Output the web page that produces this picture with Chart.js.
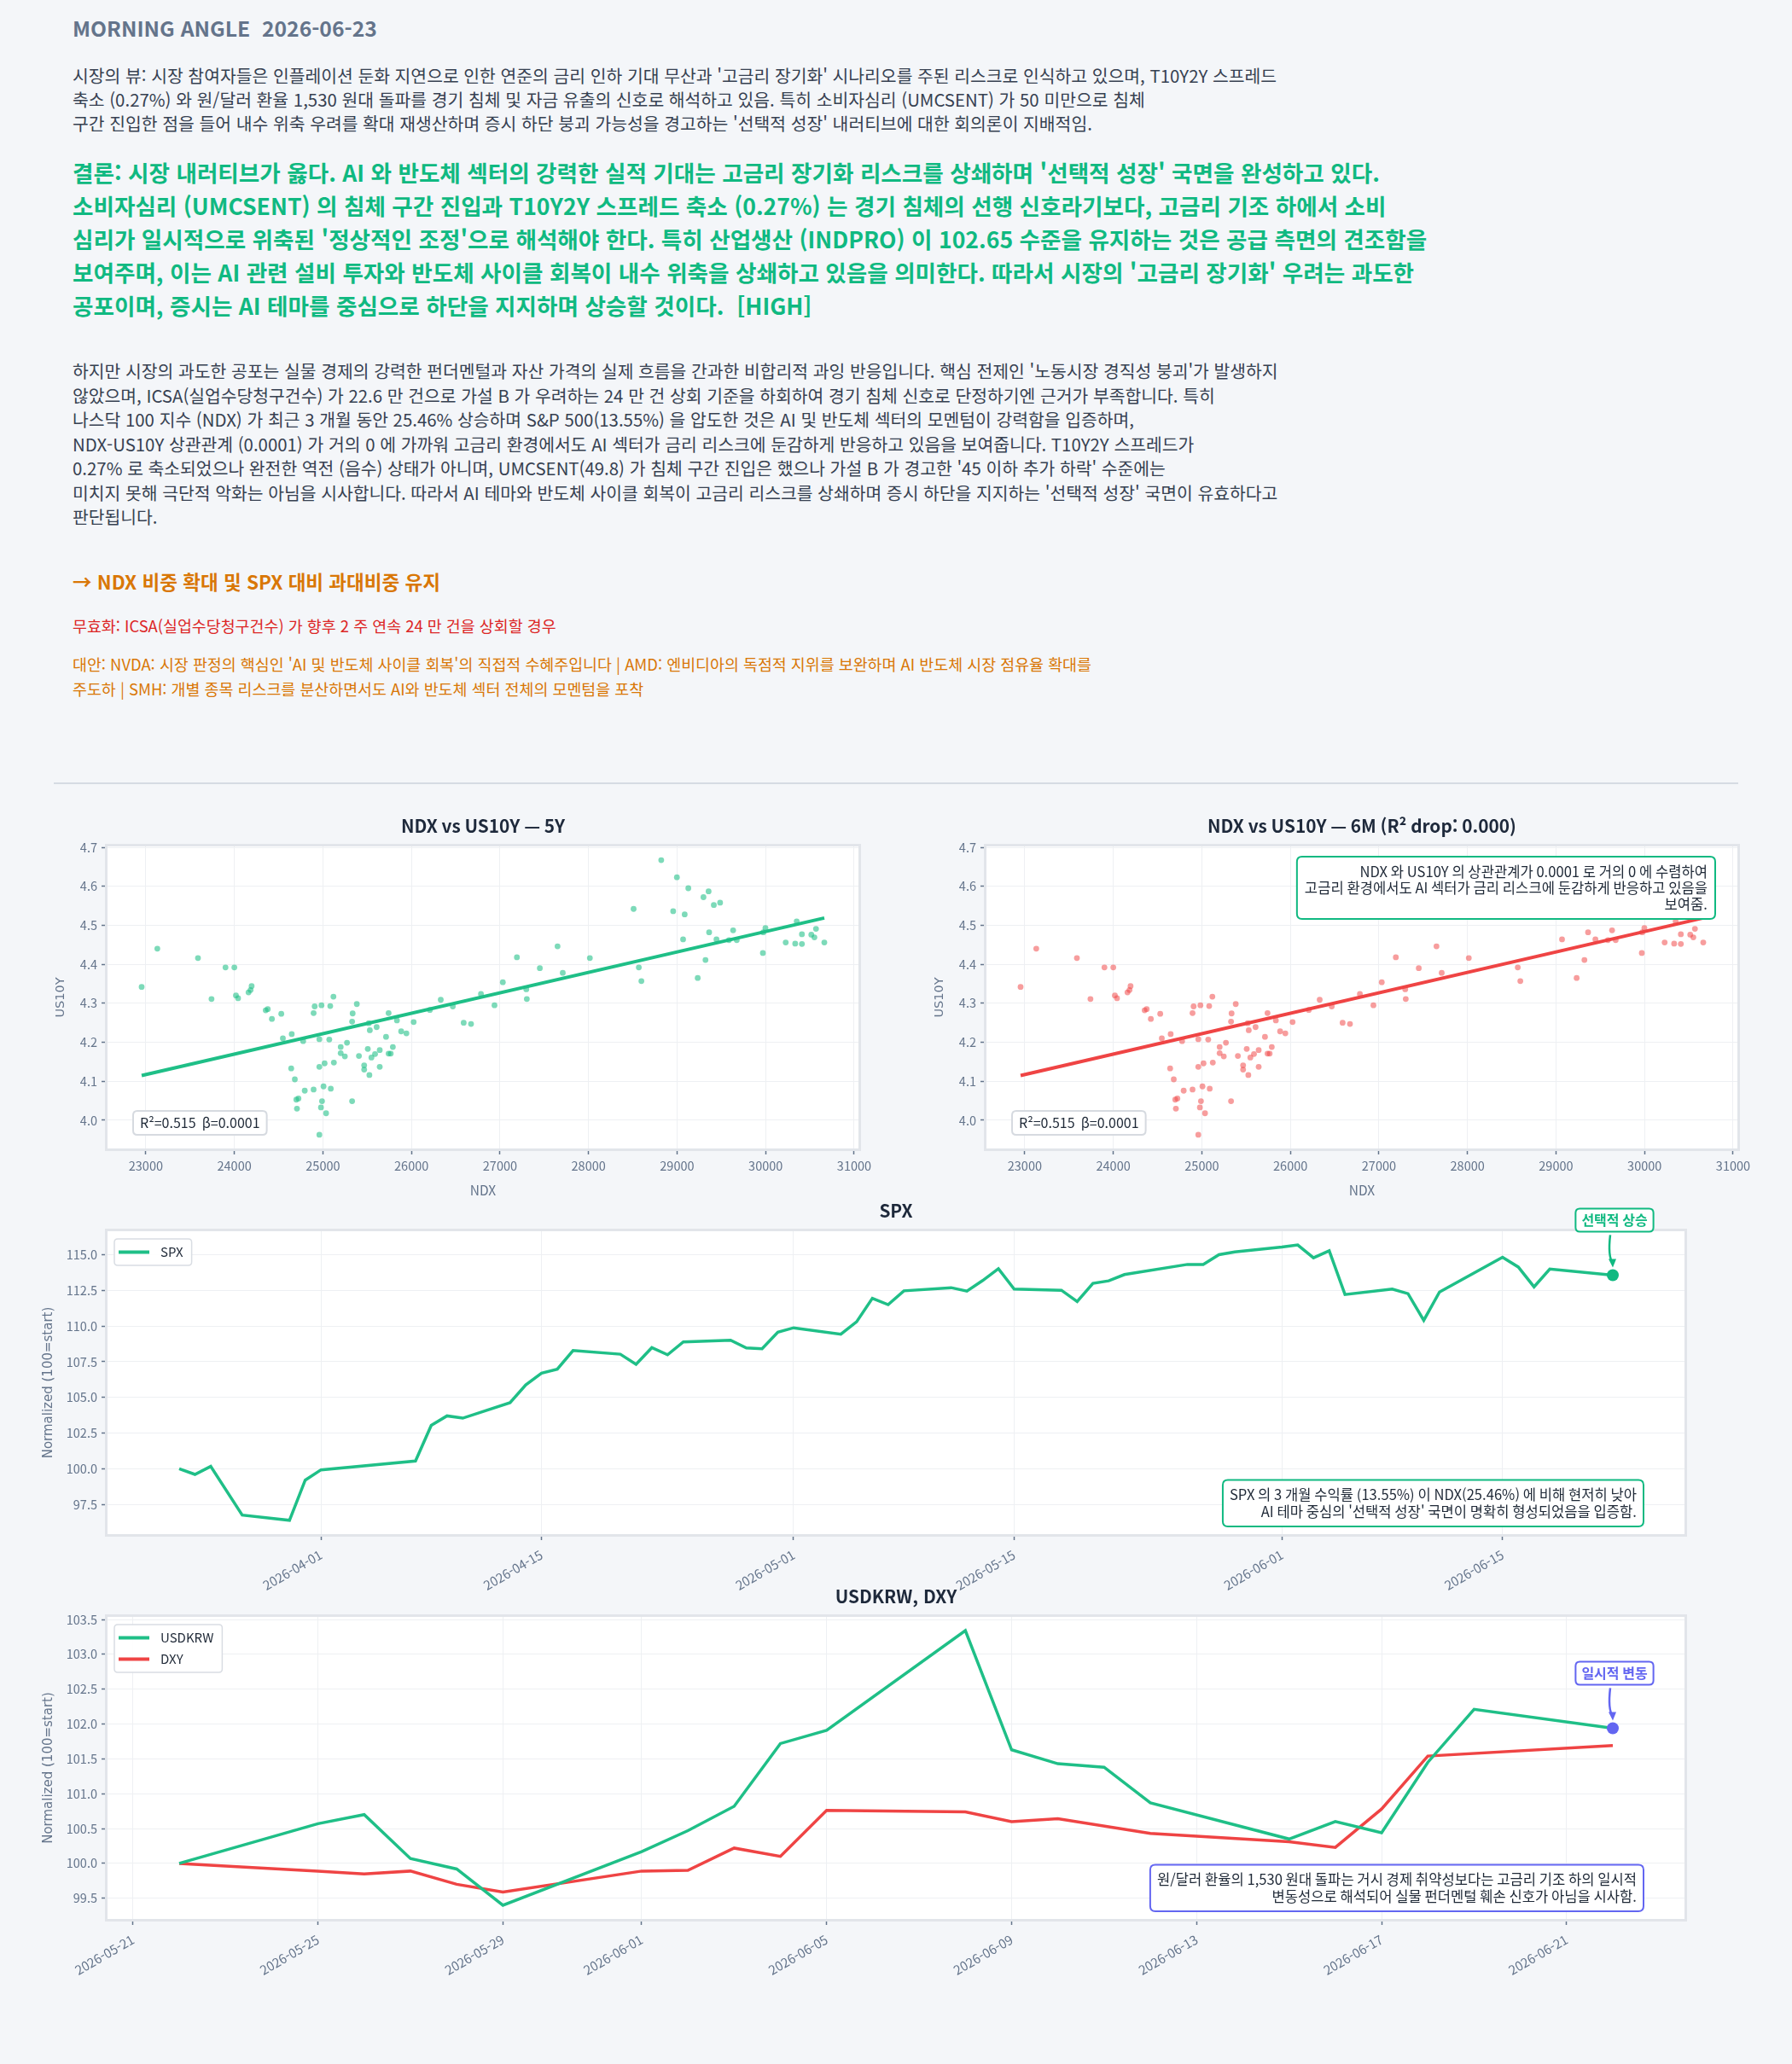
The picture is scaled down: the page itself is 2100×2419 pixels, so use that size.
<!DOCTYPE html>
<html lang="ko">
<head>
<meta charset="utf-8">
<title>Morning Angle 2026-06-23</title>
<script src="https://cdn.jsdelivr.net/npm/chart.js@4.4.1/dist/chart.umd.min.js"></script>
<style>
  html, body { margin: 0; padding: 0; }
  body {
    width: 2100px; height: 2419px; position: relative; overflow: hidden;
    background: #f4f6f9;
    font-family: 'Noto Sans CJK KR', 'Noto Sans', sans-serif;
  }
  .txt { position: absolute; left: 85px; margin: 0; white-space: nowrap; }
  .head { top: 17px; font-size: 24.7px; line-height: 30px; font-weight: 700; color: #64748b; }
  .view { top: 74px; font-size: 20.4px; line-height: 28px; color: #374151; }
  .verdict { top: 182px; font-size: 26.6px; line-height: 39px; font-weight: 700; color: #10b981; }
  .body2 { top: 420px; font-size: 20.4px; line-height: 28.5px; color: #374151; }
  .action { top: 666px; font-size: 22.5px; line-height: 30px; font-weight: 700; color: #d97706; }
  .invalid { top: 719px; font-size: 18.4px; line-height: 28px; color: #dc2626; }
  .alt { top: 764px; font-size: 18.4px; line-height: 29px; color: #d97706; }
  .rule { position: absolute; left: 63px; top: 917px; width: 1974px; height: 2px; background: #d5dbe3; }
  .box { position: absolute; }
  #c1 { left: 60px; top: 950px; width: 980px; height: 460px; }
  #c2 { left: 1090px; top: 950px; width: 980px; height: 460px; }
  #c3 { left: 45px; top: 1400px; width: 1985px; height: 472px; }
  #c4 { left: 45px; top: 1850px; width: 1985px; height: 472px; }
</style>
</head>
<body>

<div class="txt head">MORNING ANGLE&nbsp; 2026-06-23</div>

<div class="txt view">
시장의 뷰: 시장 참여자들은 인플레이션 둔화 지연으로 인한 연준의 금리 인하 기대 무산과 '고금리 장기화' 시나리오를 주된 리스크로 인식하고 있으며, T10Y2Y 스프레드<br>
축소 (0.27%) 와 원/달러 환율 1,530 원대 돌파를 경기 침체 및 자금 유출의 신호로 해석하고 있음. 특히 소비자심리 (UMCSENT) 가 50 미만으로 침체<br>
구간 진입한 점을 들어 내수 위축 우려를 확대 재생산하며 증시 하단 붕괴 가능성을 경고하는 '선택적 성장' 내러티브에 대한 회의론이 지배적임.
</div>

<div class="txt verdict">
결론: 시장 내러티브가 옳다. AI 와 반도체 섹터의 강력한 실적 기대는 고금리 장기화 리스크를 상쇄하며 '선택적 성장' 국면을 완성하고 있다.<br>
소비자심리 (UMCSENT) 의 침체 구간 진입과 T10Y2Y 스프레드 축소 (0.27%) 는 경기 침체의 선행 신호라기보다, 고금리 기조 하에서 소비<br>
심리가 일시적으로 위축된 '정상적인 조정'으로 해석해야 한다. 특히 산업생산 (INDPRO) 이 102.65 수준을 유지하는 것은 공급 측면의 견조함을<br>
보여주며, 이는 AI 관련 설비 투자와 반도체 사이클 회복이 내수 위축을 상쇄하고 있음을 의미한다. 따라서 시장의 '고금리 장기화' 우려는 과도한<br>
공포이며, 증시는 AI 테마를 중심으로 하단을 지지하며 상승할 것이다.&nbsp; [HIGH]
</div>

<div class="txt body2">
하지만 시장의 과도한 공포는 실물 경제의 강력한 펀더멘털과 자산 가격의 실제 흐름을 간과한 비합리적 과잉 반응입니다. 핵심 전제인 '노동시장 경직성 붕괴'가 발생하지<br>
않았으며, ICSA(실업수당청구건수) 가 22.6 만 건으로 가설 B 가 우려하는 24 만 건 상회 기준을 하회하여 경기 침체 신호로 단정하기엔 근거가 부족합니다. 특히<br>
나스닥 100 지수 (NDX) 가 최근 3 개월 동안 25.46% 상승하며 S&amp;P 500(13.55%) 을 압도한 것은 AI 및 반도체 섹터의 모멘텀이 강력함을 입증하며,<br>
NDX-US10Y 상관관계 (0.0001) 가 거의 0 에 가까워 고금리 환경에서도 AI 섹터가 금리 리스크에 둔감하게 반응하고 있음을 보여줍니다. T10Y2Y 스프레드가<br>
0.27% 로 축소되었으나 완전한 역전 (음수) 상태가 아니며, UMCSENT(49.8) 가 침체 구간 진입은 했으나 가설 B 가 경고한 '45 이하 추가 하락' 수준에는<br>
미치지 못해 극단적 악화는 아님을 시사합니다. 따라서 AI 테마와 반도체 사이클 회복이 고금리 리스크를 상쇄하며 증시 하단을 지지하는 '선택적 성장' 국면이 유효하다고<br>
판단됩니다.
</div>

<div class="txt action">→ NDX 비중 확대 및 SPX 대비 과대비중 유지</div>
<div class="txt invalid">무효화: ICSA(실업수당청구건수) 가 향후 2 주 연속 24 만 건을 상회할 경우</div>
<div class="txt alt">
대안: NVDA: 시장 판정의 핵심인 'AI 및 반도체 사이클 회복'의 직접적 수혜주입니다 | AMD: 엔비디아의 독점적 지위를 보완하며 AI 반도체 시장 점유율 확대를<br>
주도하 | SMH: 개별 종목 리스크를 분산하면서도 AI와 반도체 섹터 전체의 모멘텀을 포착
</div>

<div class="rule"></div>

<div class="box" id="c1"><canvas id="scatter5y"></canvas></div>
<div class="box" id="c2"><canvas id="scatter6m"></canvas></div>
<div class="box" id="c3"><canvas id="spxChart"></canvas></div>
<div class="box" id="c4"><canvas id="fxChart"></canvas></div>

<script>
// ---- data ----
const ndxValues = [22953,23130,23589,23742,23900,24000,24018,24042,24160,24183,
  24195,24354,24377,24424,24530,24548,24648,24642,24683,24700,
  24724,24707,24777,24795,24895,24907,24895,24960,24960,24960,
  24978,24984,24990,25007,25019,25036,25072,25083,25089,25119,
  25124,25201,25201,25248,25272,25330,25330,25336,25383,25407,
  25466,25466,25507,25519,25530,25525,25548,25589,25607,25642,
  25642,25713,25742,25742,25766,25790,25836,25884,25943,26025,
  26208,26331,26467,26590,26673,26785,26938,27032,27191,27297,
  27303,27450,27650,27709,28015,28509,28568,28597,28821,28956,
  28998,29068,29086,29127,29233,29298,29321,29362,29356,29415,
  29445,29486,29586,29633,29674,29969,29998,29974,30227,30334,
  30351,30410,30410,30516,30551,30569,30663];
const us10yValues = [4.342,4.440,4.416,4.311,4.392,4.392,4.320,4.313,4.328,4.334,
  4.344,4.282,4.285,4.260,4.273,4.210,4.221,4.133,4.105,4.053,
  4.056,4.030,4.203,4.076,4.275,4.292,4.079,3.963,4.208,4.137,
  4.033,4.295,4.049,4.087,4.146,4.018,4.207,4.293,4.081,4.317,
  4.148,4.188,4.172,4.164,4.199,4.049,4.253,4.274,4.298,4.165,
  4.141,4.130,4.183,4.249,4.231,4.116,4.161,4.170,4.239,4.180,
  4.137,4.214,4.275,4.171,4.171,4.188,4.256,4.228,4.223,4.252,
  4.283,4.309,4.292,4.250,4.247,4.324,4.295,4.354,4.418,4.336,
  4.311,4.390,4.446,4.378,4.416,4.542,4.392,4.357,4.667,4.536,
  4.623,4.464,4.528,4.595,4.365,4.572,4.411,4.482,4.587,4.552,
  4.464,4.558,4.462,4.487,4.462,4.429,4.493,4.482,4.456,4.453,
  4.510,4.477,4.452,4.476,4.469,4.491,4.456];
const ndxTicks = [23000,24000,25000,26000,27000,28000,29000,30000,31000];
const us10yTicks = [4.0,4.1,4.2,4.3,4.4,4.5,4.6,4.7];

const spxDates = ['2026-03-23','2026-03-24','2026-03-25','2026-03-27','2026-03-30','2026-03-31',
  '2026-04-01','2026-04-07','2026-04-08','2026-04-09','2026-04-10','2026-04-13','2026-04-14',
  '2026-04-15','2026-04-16','2026-04-17','2026-04-20','2026-04-21','2026-04-22','2026-04-23',
  '2026-04-24','2026-04-27','2026-04-28','2026-04-29','2026-04-30','2026-05-01','2026-05-04',
  '2026-05-05','2026-05-06','2026-05-07','2026-05-08','2026-05-11','2026-05-12','2026-05-13',
  '2026-05-14','2026-05-15','2026-05-18','2026-05-19','2026-05-20','2026-05-21','2026-05-22',
  '2026-05-26','2026-05-27','2026-05-28','2026-05-29','2026-06-01','2026-06-02','2026-06-03',
  '2026-06-04','2026-06-05','2026-06-08','2026-06-09','2026-06-10','2026-06-11','2026-06-15',
  '2026-06-16','2026-06-17','2026-06-18','2026-06-22'];
const spxValues = [100.0,99.61,100.17,96.76,96.39,99.21,
  99.93,100.55,103.05,103.71,103.55,104.63,105.88,
  106.70,106.98,108.29,108.03,107.32,108.49,107.99,
  108.89,109.01,108.47,108.41,109.57,109.88,109.43,
  110.30,111.95,111.50,112.47,112.69,112.45,113.19,
  114.02,112.59,112.51,111.72,112.99,113.17,113.61,
  114.32,114.32,115.00,115.20,115.54,115.68,114.78,
  115.28,112.21,112.59,112.27,110.40,112.39,114.82,
  114.14,112.75,114.00,113.57];
const spxTicks = [97.5,100.0,102.5,105.0,107.5,110.0,112.5,115.0];
const spxDateTicks = ['2026-04-01','2026-04-15','2026-05-01','2026-05-15','2026-06-01','2026-06-15'];

const krwDates = ['2026-05-22','2026-05-25','2026-05-26','2026-05-27','2026-05-28','2026-05-29',
  '2026-06-01','2026-06-02','2026-06-03','2026-06-04','2026-06-05','2026-06-08','2026-06-09',
  '2026-06-10','2026-06-11','2026-06-12','2026-06-15','2026-06-16','2026-06-17','2026-06-18',
  '2026-06-19','2026-06-22'];
const krwValues = [100.0,100.57,100.70,100.07,99.92,99.40,
  100.17,100.47,100.82,101.72,101.91,103.34,101.63,
  101.43,101.38,100.87,100.35,100.60,100.44,101.45,
  102.21,101.94];
const dxyDates = ['2026-05-22','2026-05-25','2026-05-26','2026-05-27','2026-05-28','2026-05-29',
  '2026-06-01','2026-06-02','2026-06-03','2026-06-04','2026-06-05','2026-06-08','2026-06-09',
  '2026-06-10','2026-06-12','2026-06-15','2026-06-16','2026-06-17','2026-06-18','2026-06-22'];
const dxyValues = [100.0,99.89,99.85,99.89,99.70,99.59,
  99.89,99.90,100.22,100.10,100.76,100.74,100.60,
  100.64,100.43,100.31,100.23,100.78,101.54,101.69];
const fxTicks = [99.5,100.0,100.5,101.0,101.5,102.0,102.5,103.0,103.5];
const fxDateTicks = ['2026-05-21','2026-05-25','2026-05-29','2026-06-01','2026-06-05',
  '2026-06-09','2026-06-13','2026-06-17','2026-06-21'];

// ---- helpers ----
const GREEN = '#1fbf87';
const RED = '#ef4444';
const INDIGO = '#6366f1';
const TICK = '#64748b';
const GRID = '#eef0f3';
const FONT = "'Noto Sans CJK KR', 'Noto Sans', sans-serif";

Chart.defaults.font.family = FONT;
Chart.defaults.animation = false;

const DAY = 86400000;
function toDay(s) {
  const p = s.split('-').map(Number);
  return Date.UTC(p[0], p[1] - 1, p[2]) / DAY;
}
function fromDay(d) {
  return new Date(Math.round(d) * DAY).toISOString().slice(0, 10);
}
// 5% margin on both sides, like the original plotting tool
function padRange(arr) {
  const lo = Math.min(...arr), hi = Math.max(...arr);
  const m = (hi - lo) * 0.05;
  return [lo - m, hi + m];
}
function fitLine(xs, ys) {
  const n = xs.length;
  const mx = xs.reduce((a, b) => a + b, 0) / n;
  const my = ys.reduce((a, b) => a + b, 0) / n;
  let sxy = 0, sxx = 0;
  for (let i = 0; i < n; i++) {
    sxy += (xs[i] - mx) * (ys[i] - my);
    sxx += (xs[i] - mx) * (xs[i] - mx);
  }
  const b = sxy / sxx;
  return { a: my - b * mx, b: b };
}

function roundRectPath(ctx, x, y, w, h, r) {
  ctx.beginPath();
  ctx.moveTo(x + r, y);
  ctx.lineTo(x + w - r, y);
  ctx.quadraticCurveTo(x + w, y, x + w, y + r);
  ctx.lineTo(x + w, y + h - r);
  ctx.quadraticCurveTo(x + w, y + h, x + w - r, y + h);
  ctx.lineTo(x + r, y + h);
  ctx.quadraticCurveTo(x, y + h, x, y + h - r);
  ctx.lineTo(x, y + r);
  ctx.quadraticCurveTo(x, y, x + r, y);
  ctx.closePath();
}

// text box anchored at a corner
function noteBox(ctx, o) {
  ctx.save();
  ctx.font = o.font;
  const padX = o.padX || 9, padY = o.padY || 8, lh = o.lineH;
  let tw = 0;
  o.lines.forEach(l => { tw = Math.max(tw, ctx.measureText(l).width); });
  const w = tw + padX * 2, h = o.lines.length * lh + padY * 2;
  const left = o.hAnchor === 'left' ? o.x : (o.hAnchor === 'center' ? o.x - w / 2 : o.x - w);
  const top = o.vAnchor === 'top' ? o.y : o.y - h;
  roundRectPath(ctx, left, top, w, h, o.radius || 6);
  ctx.fillStyle = '#ffffff';
  ctx.fill();
  ctx.lineWidth = o.borderWidth || 2;
  ctx.strokeStyle = o.border;
  ctx.stroke();
  ctx.fillStyle = o.color;
  ctx.textBaseline = 'middle';
  ctx.textAlign = o.align || 'right';
  o.lines.forEach((l, i) => {
    const tx = ctx.textAlign === 'right' ? left + w - padX : (ctx.textAlign === 'center' ? left + w / 2 : left + padX);
    ctx.fillText(l, tx, top + padY + lh * (i + 0.5));
  });
  ctx.restore();
  return { left: left, top: top, w: w, h: h };
}

function deco(cfg) {
  return {
    id: 'deco',
    beforeDraw(chart) {
      const a = chart.chartArea, ctx = chart.ctx;
      ctx.save();
      ctx.fillStyle = '#ffffff';
      ctx.fillRect(a.left, a.top, a.right - a.left, a.bottom - a.top);
      ctx.restore();
    },
    beforeDatasetsDraw(chart) {
      const a = chart.chartArea, ctx = chart.ctx;
      ctx.save();
      ctx.strokeStyle = '#e2e5ea';
      ctx.lineWidth = 3;
      ctx.strokeRect(a.left - 1.5, a.top - 1.5, a.right - a.left + 3, a.bottom - a.top + 3);
      ctx.restore();
    },
    afterDraw(chart) {
      const a = chart.chartArea, ctx = chart.ctx;
      // chart title, centred over the plot area
      ctx.save();
      ctx.font = 'bold 20.8px ' + FONT;
      ctx.fillStyle = '#1e293b';
      ctx.textAlign = 'center';
      ctx.textBaseline = 'middle';
      ctx.fillText(cfg.title, (a.left + a.right) / 2, a.top - 24);
      ctx.restore();

      // legend in the upper-left corner of the plot
      if (cfg.legend) {
        const sets = chart.data.datasets.filter(d => d.label);
        ctx.save();
        ctx.font = '15px ' + FONT;
        let tw = 0;
        sets.forEach(d => { tw = Math.max(tw, ctx.measureText(d.label).width); });
        const bx = a.left + 8, by = a.top + 9, rowH = 25;
        const bw = 5 + 36 + 13 + tw + 10, bh = sets.length * rowH + 6;
        roundRectPath(ctx, bx, by, bw, bh, 4);
        ctx.fillStyle = 'rgba(255,255,255,0.9)';
        ctx.fill();
        ctx.strokeStyle = '#d9dde3';
        ctx.lineWidth = 1.5;
        ctx.stroke();
        sets.forEach((d, i) => {
          const cy = by + 3 + rowH * (i + 0.5);
          ctx.strokeStyle = d.borderColor;
          ctx.lineWidth = 4;
          ctx.beginPath();
          ctx.moveTo(bx + 5, cy);
          ctx.lineTo(bx + 41, cy);
          ctx.stroke();
          ctx.fillStyle = '#1f2937';
          ctx.textBaseline = 'middle';
          ctx.fillText(d.label, bx + 54, cy);
        });
        ctx.restore();
      }

      (cfg.notes || []).forEach(n => {
        const pos = n.place(a);
        noteBox(ctx, Object.assign({ font: '16.6px ' + FONT, color: '#1f2937', lineH: 19 }, n, pos));
      });

      // short label with a curved arrow pointing at the last point
      if (cfg.callout) {
        const c = cfg.callout;
        const meta = chart.getDatasetMeta(c.dataset);
        const pt = meta.data[meta.data.length - 1];
        const px = pt.x, py = pt.y;
        const box = noteBox(ctx, {
          lines: [c.text], font: 'bold 16px ' + FONT, color: c.color, border: c.color,
          lineH: 20, padX: 7, padY: 3.5, align: 'center', radius: 5,
          x: px + 2, y: py - 78, hAnchor: 'center', vAnchor: 'top'
        });
        const sx = px - 3, sy = box.top + box.h + 4;
        const ex = px, ey = py - 10;
        ctx.save();
        ctx.strokeStyle = c.color;
        ctx.fillStyle = c.color;
        ctx.lineWidth = 2.5;
        ctx.beginPath();
        ctx.moveTo(sx, sy);
        ctx.quadraticCurveTo(px - 6, py - 22, ex, ey - 4);
        ctx.stroke();
        ctx.beginPath();
        ctx.moveTo(ex, ey + 1);
        ctx.lineTo(ex - 5, ey - 9);
        ctx.lineTo(ex + 4, ey - 9);
        ctx.closePath();
        ctx.fill();
        ctx.restore();
      }
    }
  };
}

function valueAxis(o) {
  return {
    type: 'linear',
    min: o.range[0],
    max: o.range[1],
    afterFit: s => { s.width = o.width; },
    afterBuildTicks: s => { s.ticks = o.ticks.map(v => ({ value: v })); },
    ticks: { color: TICK, font: { size: 14.5 }, padding: 5, callback: v => Number(v).toFixed(1) },
    grid: { color: GRID, lineWidth: 1, drawTicks: true, tickLength: 7, tickColor: TICK, tickWidth: 1.5 },
    border: { display: false },
    title: {
      display: true, text: o.title, color: TICK,
      font: { family: "'DejaVu Sans', sans-serif", size: o.titleSize || 15 },
      padding: { top: 3, bottom: 0 }
    }
  };
}

function dateAxis(o) {
  return {
    type: 'linear',
    min: o.range[0],
    max: o.range[1],
    afterFit: s => { s.height = o.height; },
    afterBuildTicks: s => { s.ticks = o.ticks.map(d => ({ value: toDay(d) })); },
    ticks: {
      color: TICK, font: { size: 15 }, padding: 8,
      minRotation: 30, maxRotation: 30, autoSkip: false,
      callback: v => fromDay(v)
    },
    grid: { color: GRID, lineWidth: 1, drawTicks: true, tickLength: 7, tickColor: TICK, tickWidth: 1.5 },
    border: { display: false }
  };
}

// ---- scatter: NDX vs US10Y ----
const fit = fitLine(ndxValues, us10yValues);
const ndxMin = Math.min(...ndxValues), ndxMax = Math.max(...ndxValues);
const fitPoints = [
  { x: ndxMin, y: fit.a + fit.b * ndxMin },
  { x: ndxMax, y: fit.a + fit.b * ndxMax }
];
const scatterPoints = ndxValues.map((x, i) => ({ x: x, y: us10yValues[i] }));

function scatterChart(id, color, dotColor, cfg) {
  return new Chart(document.getElementById(id), {
    type: 'scatter',
    data: {
      datasets: [
        { type: 'line', data: fitPoints, borderColor: color, borderWidth: 4, pointRadius: 0, order: 0 },
        { data: scatterPoints, backgroundColor: dotColor, borderWidth: 0, pointRadius: 3.4, order: 1 }
      ]
    },
    options: {
      responsive: true,
      maintainAspectRatio: false,
      events: [],
      layout: { autoPadding: false, padding: { top: 42, right: 34, left: 0, bottom: 0 } },
      plugins: { legend: { display: false }, tooltip: { enabled: false } },
      scales: {
        x: {
          type: 'linear',
          min: padRange(ndxValues)[0],
          max: padRange(ndxValues)[1],
          afterFit: s => { s.height = 64; },
          afterBuildTicks: s => { s.ticks = ndxTicks.map(v => ({ value: v })); },
          ticks: { color: TICK, font: { size: 14.5 }, padding: 5, callback: v => String(v) },
          grid: { color: GRID, lineWidth: 1, drawTicks: true, tickLength: 7, tickColor: TICK, tickWidth: 1.5 },
          border: { display: false },
          title: { display: true, text: 'NDX', color: TICK, font: { size: 15.5 }, padding: { top: 4, bottom: 6 } }
        },
        y: valueAxis({ range: padRange(us10yValues), ticks: us10yTicks, width: 66, title: 'US10Y', titleSize: 14.5 })
      }
    },
    plugins: [deco(cfg)]
  });
}

const r2Note = {
  lines: ['R²=0.515  β=0.0001'], border: '#d6dae0', align: 'left', padX: 8, padY: 4.5, lineH: 19, radius: 5,
  font: '16px ' + FONT,
  place: a => ({ x: a.left + 30, y: a.bottom - 16, hAnchor: 'left', vAnchor: 'bottom' })
};

scatterChart('scatter5y', GREEN, 'rgba(31,191,135,0.58)', {
  title: 'NDX vs US10Y — 5Y',
  notes: [r2Note]
});

scatterChart('scatter6m', RED, 'rgba(239,68,68,0.52)', {
  title: 'NDX vs US10Y — 6M (R² drop: 0.000)',
  notes: [
    r2Note,
    {
      lines: ['NDX 와 US10Y 의 상관관계가 0.0001 로 거의 0 에 수렴하여',
              '고금리 환경에서도 AI 섹터가 금리 리스크에 둔감하게 반응하고 있음을',
              '보여줌.'],
      border: '#10b981', lineH: 18.7, padX: 9, padY: 8.5,
      place: a => ({ x: a.right - 26, y: a.top + 12, hAnchor: 'right', vAnchor: 'top' })
    }
  ]
});

// ---- SPX ----
const spxPoints = spxDates.map((d, i) => ({ x: toDay(d), y: spxValues[i] }));
const spxLast = spxPoints.length - 1;
new Chart(document.getElementById('spxChart'), {
  type: 'line',
  data: {
    datasets: [{
      label: 'SPX',
      data: spxPoints,
      borderColor: GREEN,
      backgroundColor: GREEN,
      borderWidth: 3.5,
      tension: 0,
      pointRadius: c => (c.dataIndex === spxLast ? 7 : 0),
      pointBackgroundColor: '#10b981',
      pointBorderWidth: 0
    }]
  },
  options: {
    responsive: true,
    maintainAspectRatio: false,
    events: [],
    layout: { autoPadding: false, padding: { top: 43, right: 56, left: 0, bottom: 0 } },
    plugins: { legend: { display: false }, tooltip: { enabled: false } },
    scales: {
      x: dateAxis({ range: padRange(spxPoints.map(p => p.x)), ticks: spxDateTicks, height: 74 }),
      y: valueAxis({ range: padRange(spxValues), ticks: spxTicks, width: 81, title: 'Normalized (100=start)' })
    }
  },
  plugins: [deco({
    title: 'SPX',
    legend: true,
    notes: [{
      lines: ["SPX 의 3 개월 수익률 (13.55%) 이 NDX(25.46%) 에 비해 현저히 낮아",
              "AI 테마 중심의 '선택적 성장' 국면이 명확히 형성되었음을 입증함."],
      border: '#10b981', lineH: 19.3, padX: 8, padY: 8,
      place: a => ({ x: a.right - 48, y: a.bottom - 9, hAnchor: 'right', vAnchor: 'bottom' })
    }],
    callout: { dataset: 0, text: '선택적 상승', color: '#10b981' }
  })]
});

// ---- USDKRW, DXY ----
const krwPoints = krwDates.map((d, i) => ({ x: toDay(d), y: krwValues[i] }));
const dxyPoints = dxyDates.map((d, i) => ({ x: toDay(d), y: dxyValues[i] }));
const krwLast = krwPoints.length - 1;
new Chart(document.getElementById('fxChart'), {
  type: 'line',
  data: {
    datasets: [
      {
        label: 'USDKRW',
        data: krwPoints,
        borderColor: GREEN,
        backgroundColor: GREEN,
        borderWidth: 3.5,
        tension: 0,
        pointRadius: c => (c.dataIndex === krwLast ? 7 : 0),
        pointBackgroundColor: INDIGO,
        pointBorderWidth: 0
      },
      {
        label: 'DXY',
        data: dxyPoints,
        borderColor: RED,
        backgroundColor: RED,
        borderWidth: 3.5,
        tension: 0,
        pointRadius: 0
      }
    ]
  },
  options: {
    responsive: true,
    maintainAspectRatio: false,
    events: [],
    layout: { autoPadding: false, padding: { top: 45, right: 56, left: 0, bottom: 0 } },
    plugins: { legend: { display: false }, tooltip: { enabled: false } },
    scales: {
      x: dateAxis({ range: padRange(krwPoints.concat(dxyPoints).map(p => p.x)), ticks: fxDateTicks, height: 73 }),
      y: valueAxis({ range: padRange(krwValues.concat(dxyValues)), ticks: fxTicks, width: 81, title: 'Normalized (100=start)' })
    }
  },
  plugins: [deco({
    title: 'USDKRW, DXY',
    legend: true,
    notes: [{
      lines: ['원/달러 환율의 1,530 원대 돌파는 거시 경제 취약성보다는 고금리 기조 하의 일시적',
              '변동성으로 해석되어 실물 펀더멘털 훼손 신호가 아님을 시사함.'],
      border: INDIGO, lineH: 19.3, padX: 8, padY: 8,
      place: a => ({ x: a.right - 48, y: a.bottom - 9, hAnchor: 'right', vAnchor: 'bottom' })
    }],
    callout: { dataset: 0, text: '일시적 변동', color: INDIGO }
  })]
});
</script>
</body>
</html>
